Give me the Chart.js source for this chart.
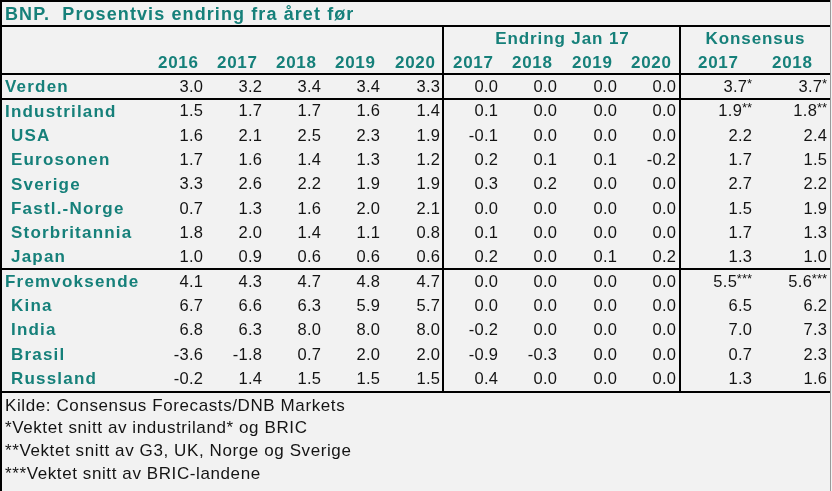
<!DOCTYPE html>
<html>
<head>
<meta charset="utf-8">
<script src="https://cdn.jsdelivr.net/npm/chart.js@4.4.1/dist/chart.umd.min.js"></script>
<style>
  html, body { margin: 0; background: #f2f2f2; }
  #wrap { width: 832px; height: 491px; position: relative; }
</style>
</head>
<body>
<div id="wrap"><canvas id="table"></canvas></div>
<script>
const title = 'BNP.  Prosentvis endring fra året før';
const groupLabels = ['Endring Jan 17', 'Konsensus'];
const years = ['2016', '2017', '2018', '2019', '2020'];
const changeYears = ['2017', '2018', '2019', '2020'];
const consensusYears = ['2017', '2018'];

const regions = ['Verden', 'Industriland', 'USA', 'Eurosonen', 'Sverige', 'Fastl.-Norge',
  'Storbritannia', 'Japan', 'Fremvoksende', 'Kina', 'India', 'Brasil', 'Russland'];
const subRegion = [false, false, true, true, true, true, true, true, false, true, true, true, true];

const gdp2016 = [3.0, 1.5, 1.6, 1.7, 3.3, 0.7, 1.8, 1.0, 4.1, 6.7, 6.8, -3.6, -0.2];
const gdp2017 = [3.2, 1.7, 2.1, 1.6, 2.6, 1.3, 2.0, 0.9, 4.3, 6.6, 6.3, -1.8, 1.4];
const gdp2018 = [3.4, 1.7, 2.5, 1.4, 2.2, 1.6, 1.4, 0.6, 4.7, 6.3, 8.0, 0.7, 1.5];
const gdp2019 = [3.4, 1.6, 2.3, 1.3, 1.9, 2.0, 1.1, 0.6, 4.8, 5.9, 8.0, 2.0, 1.5];
const gdp2020 = [3.3, 1.4, 1.9, 1.2, 1.9, 2.1, 0.8, 0.6, 4.7, 5.7, 8.0, 2.0, 1.5];

const chg2017 = [0.0, 0.1, -0.1, 0.2, 0.3, 0.0, 0.1, 0.2, 0.0, 0.0, -0.2, -0.9, 0.4];
const chg2018 = [0.0, 0.0, 0.0, 0.1, 0.2, 0.0, 0.0, 0.0, 0.0, 0.0, 0.0, -0.3, 0.0];
const chg2019 = [0.0, 0.0, 0.0, 0.1, 0.0, 0.0, 0.0, 0.1, 0.0, 0.0, 0.0, 0.0, 0.0];
const chg2020 = [0.0, 0.0, 0.0, -0.2, 0.0, 0.0, 0.0, 0.2, 0.0, 0.0, 0.0, 0.0, 0.0];

const cons2017 = [3.7, 1.9, 2.2, 1.7, 2.7, 1.5, 1.7, 1.3, 5.5, 6.5, 7.0, 0.7, 1.3];
const cons2018 = [3.7, 1.8, 2.4, 1.5, 2.2, 1.9, 1.3, 1.0, 5.6, 6.2, 7.3, 2.3, 1.6];
const consMarks = ['*', '**', '', '', '', '', '', '', '***', '', '', '', ''];

const footnotes = [
  'Kilde: Consensus Forecasts/DNB Markets',
  '*Vektet snitt av industriland* og BRIC',
  '**Vektet snitt av G3, UK, Norge og Sverige',
  '***Vektet snitt av BRIC-landene'
];

// layout (x in canvas units on a 0..832 linear scale, y in row units)
const colRight = [203, 262, 321, 380, 440, 498, 557, 617, 676, 752, 827];
const headOffset = [25, 25, 25, 25, 25, 25, 25, 25, 25, 34, 35];
const groupCenter = [562, 755];
const splitX = [443, 680];
const footRows = [15.1, 16.03, 16.97, 17.92];
const textNudge = 1; // px, optical baseline shift

const TEAL = '#16807a';
const INK = '#141414';
const FONT = "'Liberation Sans', Arial, sans-serif";

const columns = [gdp2016, gdp2017, gdp2018, gdp2019, gdp2020, chg2017, chg2018, chg2019, chg2020, cons2017, cons2018];
const headers = [...years, ...changeYears, ...consensusYears];

const datasets = columns.map((vals, c) => ({
  label: headers[c],
  data: vals.map((v, i) => ({ x: colRight[c], y: i + 2, v })),
  marks: c >= 9 ? consMarks : null,
  pointRadius: 0,
  pointHoverRadius: 0,
}));

function put(ctx, s, x, y, font, color, align, ls) {
  ctx.font = font;
  ctx.fillStyle = color;
  ctx.textAlign = align;
  ctx.letterSpacing = ls + 'px';
  const dx = align === 'right' ? ls : align === 'center' ? ls / 2 : 0;
  ctx.fillText(s, x + dx, y + textNudge);
}

const tablePlugin = {
  id: 'tableText',
  beforeDraw(chart) {
    const { ctx, width, height } = chart;
    ctx.save();
    ctx.fillStyle = '#f2f2f2';
    ctx.fillRect(0, 0, width, height);
    ctx.restore();
  },
  afterDatasetsDraw(chart) {
    const { ctx, scales: { x, y } } = chart;
    ctx.save();
    ctx.textBaseline = 'middle';

    // title
    put(ctx, title, x.getPixelForValue(5), y.getPixelForValue(-1), `bold 18px ${FONT}`, TEAL, 'left', 1.1);

    // group headers + year headers
    groupLabels.forEach((g, i) =>
      put(ctx, g, x.getPixelForValue(groupCenter[i]), y.getPixelForValue(0), `bold 17px ${FONT}`, TEAL, 'center', 0.9));
    headers.forEach((h, c) =>
      put(ctx, h, x.getPixelForValue(colRight[c] - headOffset[c]), y.getPixelForValue(1), `bold 17px ${FONT}`, TEAL, 'center', 0.7));

    // row labels
    regions.forEach((r, i) =>
      put(ctx, r, x.getPixelForValue(subRegion[i] ? 11 : 5), y.getPixelForValue(i + 2), `bold 17px ${FONT}`, TEAL, 'left', 1.2));

    // cells
    chart.data.datasets.forEach((ds, di) => {
      const meta = chart.getDatasetMeta(di);
      meta.data.forEach((el, i) => {
        const s = ds.data[i].v.toFixed(1);
        const mark = ds.marks ? ds.marks[i] : '';
        let px = el.x;
        if (mark) {
          ctx.font = `13px ${FONT}`;
          ctx.letterSpacing = '0px';
          const w = ctx.measureText(mark).width;
          put(ctx, mark, px, el.y - 3, `13px ${FONT}`, INK, 'right', 0);
          px -= w;
        }
        put(ctx, s, px, el.y, `16.5px ${FONT}`, INK, 'right', 0.3);
      });
    });

    // footnotes
    footnotes.forEach((f, i) =>
      put(ctx, f, x.getPixelForValue(5), y.getPixelForValue(footRows[i]), `17px ${FONT}`, INK, 'left', 0.6));

    // rules
    ctx.strokeStyle = '#000';
    ctx.lineWidth = 2;
    const x0 = x.getPixelForValue(0), x1 = x.getPixelForValue(830);
    [-0.5, 1.5, 2.5, 9.5, 14.55].forEach(r => {
      const py = Math.round(y.getPixelForValue(r));
      ctx.beginPath(); ctx.moveTo(x0, py); ctx.lineTo(x1, py); ctx.stroke();
    });
    splitX.forEach(sx => {
      const px = Math.round(x.getPixelForValue(sx));
      ctx.beginPath();
      ctx.moveTo(px, y.getPixelForValue(-0.5));
      ctx.lineTo(px, y.getPixelForValue(14.55));
      ctx.stroke();
    });
    // outer frame: top and left black, right thin grey
    ctx.beginPath(); ctx.moveTo(0, 1); ctx.lineTo(x1, 1); ctx.stroke();
    ctx.beginPath(); ctx.moveTo(1, 0); ctx.lineTo(1, chart.height); ctx.stroke();
    ctx.lineWidth = 1;
    ctx.strokeStyle = '#9a9a9a';
    ctx.beginPath(); ctx.moveTo(x1 + 0.5, 0); ctx.lineTo(x1 + 0.5, chart.height); ctx.stroke();
    ctx.restore();
  }
};

new Chart(document.getElementById('table'), {
  type: 'scatter',
  data: { datasets },
  options: {
    responsive: true,
    maintainAspectRatio: false,
    animation: false,
    events: [],
    layout: { padding: 0 },
    plugins: { legend: { display: false }, tooltip: { enabled: false } },
    scales: {
      x: { type: 'linear', min: 0, max: 832, display: false },
      y: { type: 'linear', min: -1.558, max: 18.63, reverse: true, display: false }
    }
  },
  plugins: [tablePlugin]
});
</script>
</body>
</html>
